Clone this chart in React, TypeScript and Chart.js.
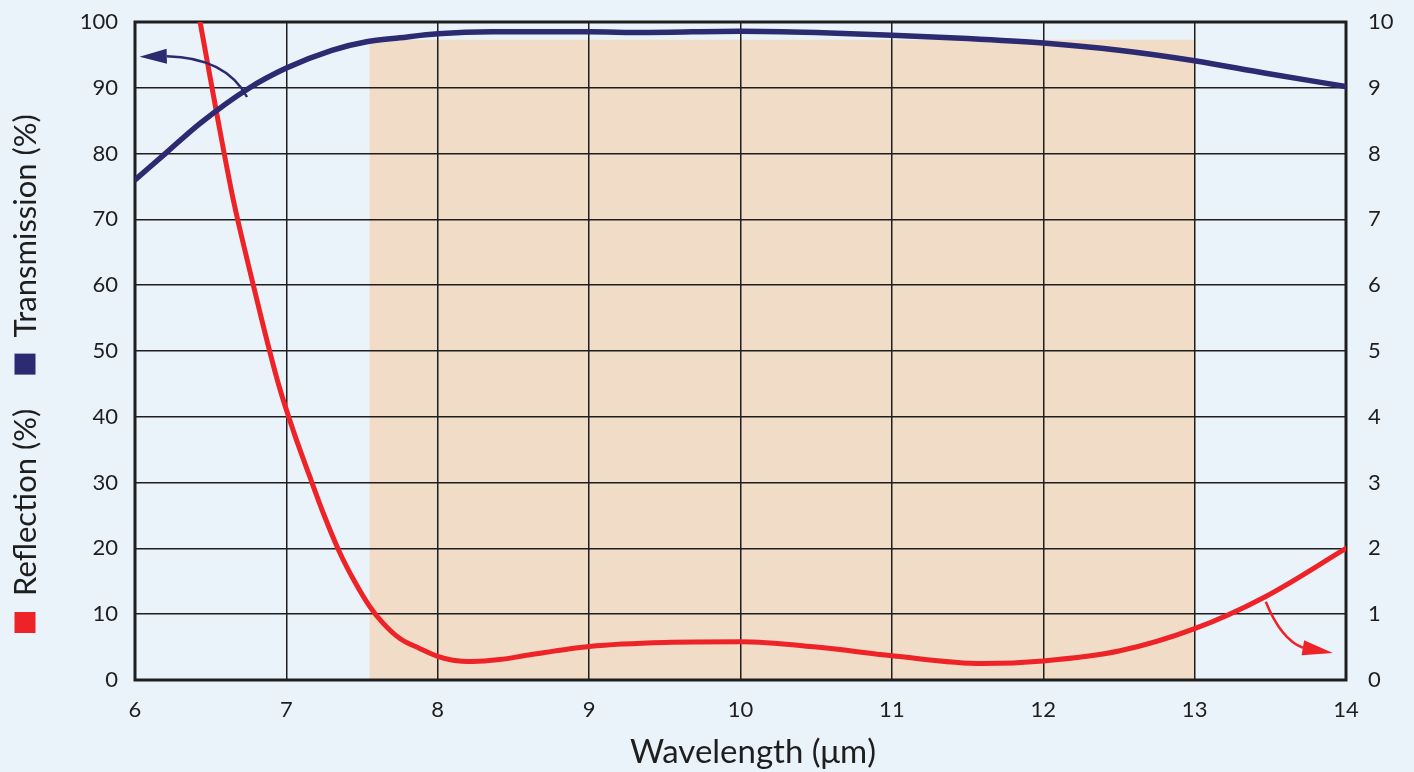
import { useEffect, useRef } from 'react';
import { Chart, ChartConfiguration, Plugin, registerables } from 'chart.js';

Chart.register(...registerables);

// Transmission curve (left axis, %)
const transWavelength = [6.0, 6.2, 6.43, 6.75, 7.0, 7.3, 7.53, 7.75, 8.0, 8.36, 9.0, 9.36, 10.0, 10.5, 11.0, 11.5, 12.0, 12.5, 13.0, 13.47, 14.0];
const transmission = [76.0, 80.0, 84.6, 89.9, 93.0, 95.7, 97.0, 97.6, 98.2, 98.5, 98.5, 98.4, 98.6, 98.4, 98.0, 97.5, 96.8, 95.7, 94.1, 92.2, 90.2];

// Reflection curve (right axis, %)
const reflWavelength = [6.43, 6.54, 6.65, 6.75, 6.84, 6.95, 7.05, 7.15, 7.25, 7.35, 7.45, 7.55, 7.64, 7.75, 7.88, 8.0, 8.1, 8.23, 8.41, 8.6, 9.0, 9.5, 10.0, 10.5, 11.0, 11.6, 12.0, 12.5, 13.0, 13.47, 14.0];
const reflection = [10.0, 8.61, 7.29, 6.3, 5.45, 4.48, 3.76, 3.12, 2.5, 1.95, 1.5, 1.12, 0.86, 0.63, 0.48, 0.36, 0.3, 0.28, 0.31, 0.38, 0.51, 0.57, 0.58, 0.5, 0.37, 0.25, 0.29, 0.44, 0.78, 1.27, 2.0];

// shaded band (wavelength range and height on the left axis)
const bandStart = 7.55;
const bandEnd = 13.0;
const bandTop = 97.3;

// arrows pointing at the axis each curve belongs to: start, bend, head base, tip
const transArrow = [[6.74, 88.6], [6.6, 94.6], [6.21, 94.8], [6.03, 94.7]];
const reflArrow = [[13.47, 1.19], [13.57, 0.62], [13.715, 0.49], [13.913, 0.41]];

const BG = '#ebf3fa';
const BAND = '#f0dcc7';
const NAVY = '#2c2a70';
const RED = '#ee2328';
const INK = '#1e1e1e';
const FONT = 'Lato, "DejaVu Sans", sans-serif';

const drawArrow = (ctx: CanvasRenderingContext2D, pts: number[][], color: string) => {
  const [p0, p1, p2, tip] = pts;
  ctx.save();
  ctx.strokeStyle = color;
  ctx.fillStyle = color;
  ctx.lineWidth = 2.5;
  ctx.beginPath();
  ctx.moveTo(p0[0], p0[1]);
  ctx.quadraticCurveTo(p1[0], p1[1], p2[0], p2[1]);
  ctx.stroke();
  const dx = tip[0] - p2[0];
  const dy = tip[1] - p2[1];
  const len = Math.hypot(dx, dy) || 1;
  const nx = -dy / len;
  const ny = dx / len;
  const hw = 7.5;
  ctx.beginPath();
  ctx.moveTo(tip[0], tip[1]);
  ctx.lineTo(p2[0] + nx * hw, p2[1] + ny * hw);
  ctx.lineTo(p2[0] - nx * hw, p2[1] - ny * hw);
  ctx.closePath();
  ctx.fill();
  ctx.restore();
};

const decorPlugin: Plugin = {
  id: 'decor',
  beforeDraw(chart) {
    const { ctx, width, height, scales } = chart;
    const x = scales.x;
    const y = scales.y;
    ctx.save();
    ctx.fillStyle = BG;
    ctx.fillRect(0, 0, width, height);
    const x0 = x.getPixelForValue(bandStart);
    const x1 = x.getPixelForValue(bandEnd);
    const yTop = y.getPixelForValue(bandTop);
    const yBot = y.getPixelForValue(0);
    ctx.fillStyle = BAND;
    ctx.fillRect(x0, yTop, x1 - x0, yBot - yTop);
    ctx.restore();
  },
  beforeDatasetsDraw(chart) {
    const { ctx, chartArea } = chart;
    ctx.save();
    ctx.strokeStyle = INK;
    ctx.lineWidth = 3;
    ctx.strokeRect(chartArea.left, chartArea.top, chartArea.right - chartArea.left, chartArea.bottom - chartArea.top);
    ctx.restore();
  },
  afterDatasetsDraw(chart) {
    const { ctx, scales } = chart;
    const x = scales.x;
    const yl = scales.y;
    const yr = scales.y1;
    drawArrow(ctx, transArrow.map(([a, b]) => [x.getPixelForValue(a), yl.getPixelForValue(b)]), NAVY);
    drawArrow(ctx, reflArrow.map(([a, b]) => [x.getPixelForValue(a), yr.getPixelForValue(b)]), RED);

    // x axis title, sitting a little right of centre as in the original
    ctx.save();
    ctx.font = `33px ${FONT}`;
    ctx.fillStyle = INK;
    ctx.textAlign = 'center';
    ctx.textBaseline = 'middle';
    ctx.fillText('Wavelength (μm)', 753, 752);
    ctx.restore();

    // combined vertical axis title with coloured keys
    ctx.save();
    ctx.translate(25, 633);
    ctx.rotate(-Math.PI / 2);
    ctx.font = `31px ${FONT}`;
    ctx.textBaseline = 'middle';
    ctx.textAlign = 'left';
    const sq = 21;
    let pos = 0;
    ctx.fillStyle = RED;
    ctx.fillRect(pos, -sq / 2, sq, sq);
    pos += sq + 16;
    ctx.fillStyle = INK;
    ctx.fillText('Reflection (%)', pos, 1);
    pos += ctx.measureText('Reflection (%)').width + 34;
    ctx.fillStyle = NAVY;
    ctx.fillRect(pos, -sq / 2, sq, sq);
    pos += sq + 16;
    ctx.fillStyle = INK;
    ctx.fillText('Transmission (%)', pos, 1);
    ctx.restore();
  },
};

const noPad = (s: any) => {
  s.paddingTop = 0;
  s.paddingBottom = 0;
};

const App = () => {
  const canvasRef = useRef<HTMLCanvasElement>(null);
  const chartRef = useRef<Chart | null>(null);

  useEffect(() => {
    if (!canvasRef.current) return;
    if (chartRef.current) chartRef.current.destroy();

    const tickFont = { family: FONT, size: 22 };

    const config: ChartConfiguration<'line'> = {
      type: 'line',
      data: {
        datasets: [
          {
            label: 'Transmission (%)',
            data: transWavelength.map((w, i) => ({ x: w, y: transmission[i] })),
            borderColor: NAVY,
            borderWidth: 5.5,
            pointRadius: 0,
            cubicInterpolationMode: 'monotone',
            yAxisID: 'y',
            borderCapStyle: 'round',
          },
          {
            label: 'Reflection (%)',
            data: reflWavelength.map((w, i) => ({ x: w, y: reflection[i] })),
            borderColor: RED,
            borderWidth: 5,
            pointRadius: 0,
            cubicInterpolationMode: 'monotone',
            yAxisID: 'y1',
            borderCapStyle: 'round',
          },
        ],
      },
      options: {
        responsive: true,
        maintainAspectRatio: false,
        animation: false,
        layout: { padding: { top: 22, left: 0, right: 0, bottom: 0 } },
        plugins: {
          legend: { display: false },
          tooltip: { enabled: false },
        },
        scales: {
          x: {
            type: 'linear',
            min: 6,
            max: 14,
            afterFit: (s) => { s.height = 92; },
            grid: { color: INK, lineWidth: 1.5, drawTicks: false },
            border: { display: false },
            ticks: { stepSize: 1, color: INK, font: tickFont, padding: 17 },
          },
          y: {
            type: 'linear',
            position: 'left',
            min: 0,
            max: 100,
            afterFit: (s) => { s.width = 135; noPad(s); },
            grid: { color: INK, lineWidth: 1.5, drawTicks: false },
            border: { display: false },
            ticks: { stepSize: 10, color: INK, font: tickFont, padding: 17 },
          },
          y1: {
            type: 'linear',
            position: 'right',
            min: 0,
            max: 10,
            afterFit: (s) => { s.width = 68; noPad(s); },
            grid: { display: false, drawTicks: false },
            border: { display: false },
            ticks: { stepSize: 1, color: INK, font: tickFont, padding: 22 },
          },
        },
      },
      plugins: [decorPlugin],
    };

    chartRef.current = new Chart(canvasRef.current, config);

    return () => {
      if (chartRef.current) {
        chartRef.current.destroy();
        chartRef.current = null;
      }
    };
  }, []);

  return (
    <div style={{ position: 'fixed', left: 0, top: 0, width: 1414, height: 772, background: BG }}>
      <canvas ref={canvasRef}></canvas>
    </div>
  );
};

export default App;
